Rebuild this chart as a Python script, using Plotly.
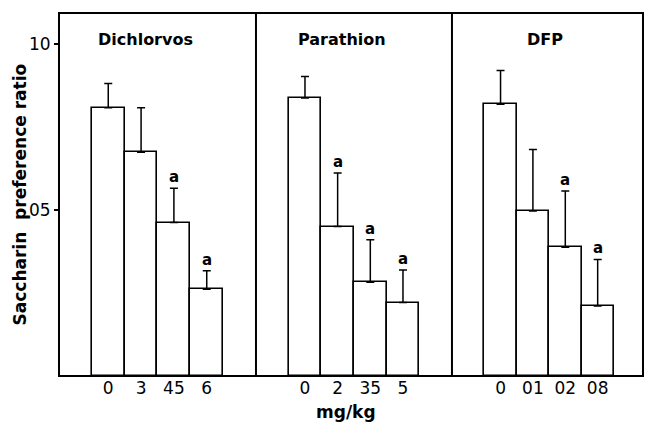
import plotly.graph_objects as go
from plotly.subplots import make_subplots

# ---- data ----
panels = ["Dichlorvos", "Parathion", "DFP"]
doses = [["0", "3", "45", "6"], ["0", "2", "35", "5"], ["0", "01", "02", "08"]]
means = [[0.808, 0.674, 0.462, 0.261],
         [0.837, 0.450, 0.282, 0.221],
         [0.818, 0.497, 0.388, 0.211]]
err_tops = [[0.881, 0.808, 0.565, 0.317],
            [0.902, 0.611, 0.410, 0.319],
            [0.920, 0.682, 0.557, 0.351]]
sig = [[False, False, True, True],
       [False, True, True, True],
       [False, False, True, True]]
y_tickvals = [0.5, 1.0]
y_ticktext = ["05", "10"]

# ---- layout helpers ----
slots = [1.5, 2.5, 3.5, 4.5]
domains = [[0.0, 0.3373], [0.3373, 0.6729], [0.6729, 1.0]]
xranges = [[0, 6], [0, 6], [0, 5.9]]
title_x = [2.62, 2.63, 2.87]
FONT = "DejaVu Sans"

fig = make_subplots(rows=1, cols=3, shared_yaxes=True, horizontal_spacing=0)

for i in range(3):
    errs = [t - m for t, m in zip(err_tops[i], means[i])]
    fig.add_trace(go.Bar(
        x=slots, y=means[i], width=1.0,
        marker=dict(color="white", line=dict(color="black", width=1.6)),
        error_y=dict(type="data", symmetric=False, array=errs,
                     arrayminus=[0] * 4, color="black", thickness=1.5, width=4),
        showlegend=False, hoverinfo="skip"),
        row=1, col=i + 1)
    xa = "xaxis" if i == 0 else f"xaxis{i + 1}"
    fig.layout[xa].update(
        domain=domains[i], range=xranges[i], tickmode="array",
        tickvals=slots, ticktext=doses[i], ticks="", showgrid=False,
        zeroline=False, showline=False,
        tickfont=dict(family=FONT, size=17, color="black"))
    xref = "x" if i == 0 else f"x{i + 1}"
    yref = "y" if i == 0 else f"y{i + 1}"
    fig.add_annotation(x=title_x[i], y=0.928, xref=xref, yref="paper",
                       text=f"<b>{panels[i]}</b>", showarrow=False,
                       yanchor="middle",
                       font=dict(family=FONT, size=16, color="black"))
    for s, t, flag in zip(slots, err_tops[i], sig[i]):
        if flag:
            fig.add_annotation(x=s, y=t, xref=xref, yref=yref, text="<b>a</b>",
                               showarrow=False, yanchor="bottom", yshift=0,
                               font=dict(family=FONT, size=15, color="black"))

for i in range(3):
    ya = "yaxis" if i == 0 else f"yaxis{i + 1}"
    fig.layout[ya].update(range=[0, 1.093], showgrid=False, zeroline=False,
                          showline=False)
fig.layout.yaxis.update(tickmode="array", tickvals=y_tickvals,
                        ticktext=y_ticktext, ticks="outside", ticklen=4,
                        tickwidth=1.5, tickcolor="black",
                        tickfont=dict(family=FONT, size=17, color="black"))

# frame and panel dividers
fig.add_shape(type="rect", xref="paper", yref="paper", x0=0, x1=1, y0=0, y1=1,
              line=dict(color="black", width=2))
for d in domains[1:]:
    fig.add_shape(type="line", xref="paper", yref="paper", x0=d[0], x1=d[0],
                  y0=0, y1=1, line=dict(color="black", width=2))

# axis titles
fig.add_annotation(x=-0.0668, y=0.5, xref="paper", yref="paper",
                   text="<b>Saccharin  preference ratio</b>", textangle=-90,
                   showarrow=False, xanchor="center", yanchor="middle",
                   font=dict(family=FONT, size=17, color="black"))
fig.add_annotation(x=0.4906, y=-0.10, xref="paper", yref="paper",
                   text="<b>mg/kg</b>", showarrow=False, yanchor="middle",
                   font=dict(family=FONT, size=17, color="black"))

fig.update_layout(width=646, height=429, plot_bgcolor="white",
                  paper_bgcolor="white", bargap=0,
                  margin=dict(l=59, r=3, t=13, b=53))

fig.write_html("out.html")
